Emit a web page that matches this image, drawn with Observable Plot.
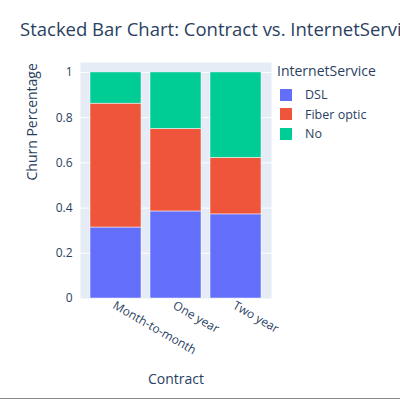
<!DOCTYPE html>
<html><head><meta charset="utf-8">
<script src="https://cdn.jsdelivr.net/npm/d3@7"></script>
<script src="https://cdn.jsdelivr.net/npm/@observablehq/plot@0.6"></script>
<style>
body{margin:0;font-family:"Open Sans",sans-serif;}
#wrap{position:relative;width:400px;height:401px;overflow:hidden;}
#title{position:absolute;left:20px;top:16px;font-size:18.5px;color:#2a3f5f;white-space:nowrap;}
#legend{position:absolute;left:277px;top:61px;font-size:13px;color:#2a3f5f;}
#legend .it{display:flex;align-items:center;height:19.5px;margin-left:3px;font-size:12.5px;}
#legend .sw{width:12px;height:12px;margin-right:13px;}
#line{position:absolute;left:0;top:398px;width:400px;height:1px;background:#888;}
</style></head><body>
<div id="wrap"><div id="chart"></div><div id="title">Stacked Bar Chart: Contract vs. InternetService</div><div id="legend"></div><div id="line"></div></div>
<script>
const contracts = ["Month-to-month", "One year", "Two year"];
const services = ["DSL", "Fiber optic", "No"];
const dsl = [0.314, 0.385, 0.372];
const fiber = [0.548, 0.365, 0.25];
const none = [0.138, 0.25, 0.378];
const colors = ["#636efa", "#EF553B", "#00cc96"];

let rows = [];
contracts.forEach((c, i) => {
  rows.push({ contract: c, service: "DSL", v: dsl[i] });
  rows.push({ contract: c, service: "Fiber optic", v: fiber[i] });
  rows.push({ contract: c, service: "No", v: none[i] });
});

let chart = Plot.plot({
  width: 400, height: 401,
  marginLeft: 80, marginRight: 129, marginTop: 62, marginBottom: 103,
  style: { fontFamily: "Open Sans", fontSize: "12px", color: "#2a3f5f", maxWidth: "none" },
  x: { domain: contracts, padding: 0.15, label: null },
  y: { domain: [0, 1.044], ticks: [0, 0.2, 0.4, 0.6, 0.8, 1], tickFormat: d => d, label: null, tickSize: 0, tickPadding: 8 },
  color: { domain: services, range: colors },
  marks: [
    Plot.frame({ fill: "#e5ecf6", stroke: null }),
    Plot.gridY([0.2, 0.4, 0.6, 0.8, 1], { stroke: "white", strokeOpacity: 1, strokeWidth: 1 }),
    Plot.barY(rows, { x: "contract", y: "v", fill: "service", stroke: "white", strokeWidth: 0.5, order: services }),
    Plot.axisX({ tickSize: 0, tickRotate: 30, tickPadding: 6, textAnchor: "start", dx: -2, label: null }),
    Plot.text(["Contract"], { frameAnchor: "bottom", dy: 85, fontSize: 14, fill: "#2a3f5f" }),
    Plot.text(["Churn Percentage"], { frameAnchor: "left", dx: -48, rotate: -90, fontSize: 14, fill: "#2a3f5f" })
  ]
});
d3.select("#chart").append(() => chart);

let leg = d3.select("#legend");
leg.append("div").text("InternetService").style("margin-bottom", "5px").style("font-size","14px");
services.forEach((s, i) => {
  let it = leg.append("div").attr("class", "it");
  it.append("div").attr("class", "sw").style("background", colors[i]);
  it.append("span").text(s);
});
</script></body></html>
